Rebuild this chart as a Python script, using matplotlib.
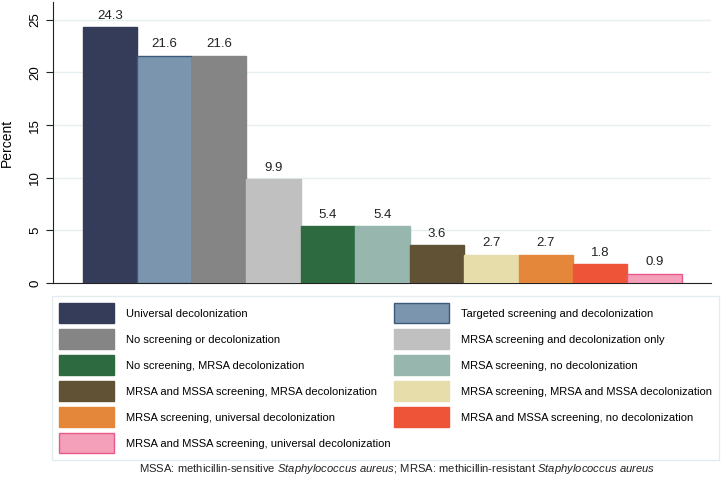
import matplotlib.pyplot as plt
from matplotlib.patches import Patch

plt.rcParams['font.family'] = ['Liberation Sans', 'DejaVu Sans']
plt.rcParams['mathtext.fontset'] = 'custom'
plt.rcParams['mathtext.rm'] = 'Liberation Sans'
plt.rcParams['mathtext.it'] = 'Liberation Sans:italic'

# strategies and their share (percent)
strategies = [
    'Universal decolonization',
    'Targeted screening and decolonization',
    'No screening or decolonization',
    'MRSA screening and decolonization only',
    'No screening, MRSA decolonization',
    'MRSA screening, no decolonization',
    'MRSA and MSSA screening, MRSA decolonization',
    'MRSA screening, MRSA and MSSA decolonization',
    'MRSA screening, universal decolonization',
    'MRSA and MSSA screening, no decolonization',
    'MRSA and MSSA screening, universal decolonization',
]
percent = [24.3, 21.6, 21.6, 9.9, 5.4, 5.4, 3.6, 2.7, 2.7, 1.8, 0.9]
colors = ['#343c5a', '#7a95ad', '#858585', '#c0c0c0', '#2d6a40', '#97b6ad',
          '#625235', '#e6ddaa', '#e5873a', '#ee5438', '#f4a0ba']
edges = ['#343c5a', '#3b5a7a', '#858585', '#c0c0c0', '#2d6a40', '#97b6ad',
         '#625235', '#e6ddaa', '#e5873a', '#ee5438', '#e8588b']

fig = plt.figure(figsize=(7.23, 4.83), dpi=100)
ax = fig.add_axes([0.0733, 0.414, 0.9097, 0.582])

x = list(range(len(percent)))
bars = ax.bar(x, percent, width=1.0, color=colors, edgecolor=edges, linewidth=1, zorder=3)
for xi, v in zip(x, percent):
    ax.text(xi, v + 0.5, f'{v:.1f}', ha='center', va='bottom', fontsize=9.5, color='#222222')

ax.set_xlim(-1.05, 11.03)
ax.set_ylim(0, 26.7)
ax.set_yticks([0, 5, 10, 15, 20, 25])
ax.set_xticks([])
ax.tick_params(axis='y', length=5, labelsize=9.5, labelrotation=90, color='#222222')
for lbl in ax.get_yticklabels():
    lbl.set_va('center')
ax.set_ylabel('Percent', fontsize=10)
ax.yaxis.set_label_coords(-0.06, 0.5)
ax.yaxis.grid(True, color='#e6f0f2', linewidth=1, zorder=0)
ax.spines['top'].set_visible(False)
ax.spines['right'].set_visible(False)
ax.spines['left'].set_color('#222222')
ax.spines['bottom'].set_color('#222222')

# legend, row-major order over two columns
order = list(range(0, 11, 2)) + list(range(1, 11, 2))
handles = [Patch(facecolor=colors[i], edgecolor=edges[i], label=strategies[i]) for i in order]
leg = fig.legend(handles=handles, ncol=2, loc='upper left',
                 bbox_to_anchor=(0.0719, 0.0, 0.9225, 0.3872), mode='expand',
                 borderaxespad=0, fontsize=8, handlelength=4.95, handleheight=2.39,
                 labelspacing=0.54, columnspacing=1.0, handletextpad=1.08,
                 borderpad=0.65, frameon=True, fancybox=False)
leg.get_frame().set_edgecolor('#dde9ec')
leg.get_frame().set_linewidth(1)

fig.text(0.549, 0.029,
         r'MSSA: methicillin-sensitive $\mathit{Staphylococcus\ aureus}$; '
         r'MRSA: methicillin-resistant $\mathit{Staphylococcus\ aureus}$',
         ha='center', va='center', fontsize=8.1, color='#222222')

plt.savefig('out.png', dpi=100)
